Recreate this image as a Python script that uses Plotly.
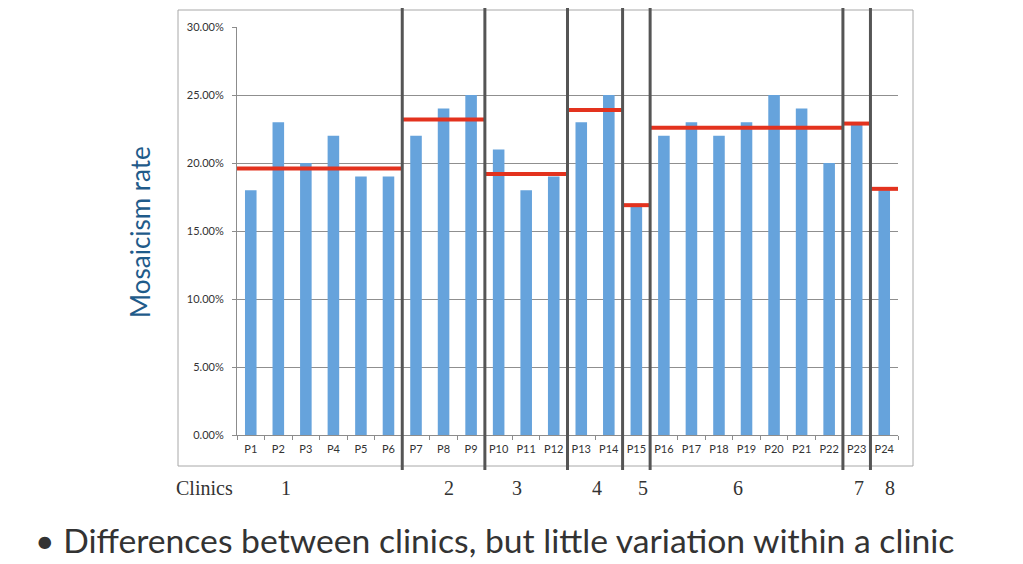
import plotly.graph_objects as go

patients = [f"P{i}" for i in range(1, 25)]
rates = [0.18, 0.23, 0.20, 0.22, 0.19, 0.19,
         0.22, 0.24, 0.25,
         0.21, 0.18, 0.19,
         0.23, 0.25,
         0.17,
         0.22, 0.23, 0.22, 0.23, 0.25, 0.24, 0.20,
         0.23,
         0.18]
clinic_names = ["1", "2", "3", "4", "5", "6", "7", "8"]
clinic_sizes = [6, 3, 3, 2, 1, 7, 1, 1]
clinic_means = [0.196, 0.232, 0.192, 0.239, 0.169, 0.226, 0.229, 0.181]
ytick_vals = [0, 0.05, 0.10, 0.15, 0.20, 0.25, 0.30]
ytick_text = ["0.00%", "5.00%", "10.00%", "15.00%", "20.00%", "25.00%", "30.00%"]

OFF = 8  # page body margin
W, H = 1023 - OFF, 564 - OFF
L, R, T, B = 237, 898, 27, 435  # plot area in screen pixels
pw, ph = R - L, B - T
n = len(patients)

def px(xpix):
    return (xpix - L) / pw

def py(ypix):
    return (B - ypix) / ph

xs = list(range(n))
fig = go.Figure()
fig.add_trace(go.Bar(
    x=xs, y=rates, width=0.42,
    marker=dict(color="#66A3DC", line=dict(width=0)),
    showlegend=False,
))

start = 0
bounds = []
for size, m in zip(clinic_sizes, clinic_means):
    end = start + size
    fig.add_trace(go.Scatter(
        x=[start - 0.5, end - 0.5], y=[m, m], mode="lines",
        line=dict(color="#E3321E", width=4), showlegend=False,
        hoverinfo="skip", cliponaxis=False,
    ))
    bounds.append((start, end))
    start = end

shapes = []
shapes.append(dict(type="rect", xref="paper", yref="paper",
                   x0=px(178), x1=px(913), y0=py(466), y1=py(10),
                   line=dict(color="#A8A8A8", width=1), layer="below"))
for s, e in bounds[:-1]:
    xp = e / n
    shapes.append(dict(type="line", xref="paper", yref="paper",
                       x0=xp, x1=xp, y0=py(470), y1=py(4),
                       line=dict(color="#555555", width=3), layer="above"))

serif = dict(family="Liberation Serif", size=20, color="#333333")
annotations = []
annotations.append(dict(text="Clinics", xref="paper", yref="paper",
                        x=px(204), y=py(488), xanchor="center", yanchor="middle",
                        showarrow=False, font=serif))
clinic_label_px = [286, 449, 517, 597, 643, 738, 859, 890]
for name, xl in zip(clinic_names, clinic_label_px):
    annotations.append(dict(text=name, xref="paper", yref="paper",
                            x=px(xl), y=py(488), xanchor="center", yanchor="middle",
                            showarrow=False, font=serif))
annotations.append(dict(text="Mosaicism rate", xref="paper", yref="paper",
                        x=px(140), y=py(232), xanchor="center", yanchor="middle",
                        showarrow=False, textangle=-90,
                        font=dict(family="Lato", size=26, color="#1F5B8A")))
annotations.append(dict(text="\u2022 Differences between clinics, but little variation within a clinic",
                        xref="paper", yref="paper", x=px(33), y=py(540),
                        xanchor="left", yanchor="middle", showarrow=False,
                        font=dict(family="Lato", size=33.7, color="#333333")))

fig.update_layout(
    width=W, height=H,
    margin=dict(l=L - OFF, r=W - (R - OFF), t=T - OFF, b=H - (B - OFF), pad=0),
    paper_bgcolor="white", plot_bgcolor="white",
    shapes=shapes, annotations=annotations,
    font=dict(family="Lato", size=10, color="#333333"),
    xaxis=dict(range=[-0.5, n - 0.5], tickvals=xs, ticktext=patients,
               ticks="", showgrid=False, showline=True, linecolor="#8C8C8C",
               linewidth=1, zeroline=False, tickfont=dict(size=11),
               ticklabelstandoff=4,
               minor=dict(tick0=-0.5, dtick=1, ticks="outside", ticklen=4,
                          tickcolor="#8C8C8C", showgrid=False)),
    yaxis=dict(range=[0, 0.30], tickvals=ytick_vals, ticktext=ytick_text,
               showgrid=True, gridcolor="#8F8F8F", gridwidth=1,
               showline=True, linecolor="#8C8C8C", zeroline=False,
               ticks="outside", ticklen=4, tickcolor="#8C8C8C",
               ticklabelstandoff=6, tickfont=dict(size=11)),
)

fig.write_html("out.html")
